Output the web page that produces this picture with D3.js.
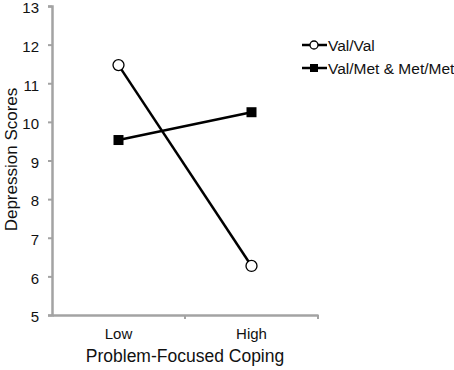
<!DOCTYPE html>
<html>
<head>
<meta charset="utf-8">
<script src="https://cdn.jsdelivr.net/npm/d3@7"></script>
<style>
  body { margin: 0; background: #fff; }
  svg text { font-family: "Liberation Sans", Arial, sans-serif; fill: #111; }
</style>
</head>
<body>
<div id="chart"></div>
<script>
// data
const categories = ["Low", "High"];
const valVal = [11.47, 6.27];
const valMet = [9.53, 10.25];
const seriesNames = ["Val/Val", "Val/Met & Met/Met"];
const yTicks = [5, 6, 7, 8, 9, 10, 11, 12, 13];

const width = 454, height = 370;
const margin = {top: 6, right: 136, bottom: 55, left: 52};

let svg = d3.select("#chart").append("svg")
    .attr("width", width)
    .attr("height", height);

let xScale = d3.scaleBand().domain(categories)
    .range([margin.left, width - margin.right]);
let yScale = d3.scaleLinear().domain([5, 13])
    .range([height - margin.bottom, margin.top]);

const axisColor = "#a3a3a3";

// y axis
let yAx = svg.append("g")
    .attr("transform", "translate(" + margin.left + ",0)")
    .call(d3.axisLeft(yScale).tickValues(yTicks).tickSize(4).tickPadding(9));
yAx.select(".domain").attr("stroke", axisColor).attr("stroke-width", 2.5);
yAx.selectAll(".tick line").attr("stroke", axisColor).attr("stroke-width", 2);
yAx.selectAll(".tick text").style("font-size", "15px").attr("fill", "#111")
    .attr("dy", "0.45em");

// x axis, ticks on the band edges
let xAx = svg.append("g")
    .attr("transform", "translate(0," + (height - margin.bottom) + ")")
    .call(d3.axisBottom(xScale).tickSize(0).tickPadding(13));
xAx.select(".domain").attr("stroke", axisColor).attr("stroke-width", 2.5);
xAx.selectAll(".tick text").style("font-size", "15px").attr("fill", "#111");
let edges = [xScale("High"), xScale.range()[1]];
xAx.selectAll(".edgeTick").data(edges).enter().append("line")
    .attr("x1", d => d).attr("x2", d => d)
    .attr("y1", 0).attr("y2", 4)
    .attr("stroke", axisColor).attr("stroke-width", 2);

// axis titles
svg.append("text")
    .attr("transform", "translate(17," + (yScale(9) - 1) + ") rotate(-90)")
    .attr("text-anchor", "middle")
    .style("font-size", "17px")
    .text("Depression Scores");
svg.append("text")
    .attr("x", xScale("High"))
    .attr("y", height - 8)
    .attr("text-anchor", "middle")
    .style("font-size", "17.5px")
    .text("Problem-Focused Coping");

let cx = c => xScale(c) + xScale.bandwidth() / 2;
let line = d3.line().x((d, i) => cx(categories[i])).y(d => yScale(d));

// Val/Met line and squares
svg.append("path").attr("d", line(valMet))
    .attr("fill", "none").attr("stroke", "#000").attr("stroke-width", 2.5);
svg.selectAll(".sq").data(valMet).enter().append("rect")
    .attr("x", (d, i) => cx(categories[i]) - 5)
    .attr("y", d => yScale(d) - 5)
    .attr("width", 10).attr("height", 10)
    .attr("fill", "#000");

// Val/Val line and circles
svg.append("path").attr("d", line(valVal))
    .attr("fill", "none").attr("stroke", "#000").attr("stroke-width", 2.5);
svg.selectAll(".circ").data(valVal).enter().append("circle")
    .attr("cx", (d, i) => cx(categories[i]))
    .attr("cy", d => yScale(d))
    .attr("r", 5.5)
    .attr("fill", "#fff").attr("stroke", "#000").attr("stroke-width", 1.3);

// legend
let legend = svg.append("g").attr("transform", "translate(302,45)");
seriesNames.forEach((name, i) => {
    let g = legend.append("g").attr("transform", "translate(0," + (i * 23) + ")");
    g.append("line").attr("x1", 0).attr("x2", 25).attr("y1", 0).attr("y2", 0)
        .attr("stroke", "#000").attr("stroke-width", 2.5);
    if (i === 0) {
        g.append("circle").attr("cx", 12).attr("cy", 0).attr("r", 4)
            .attr("fill", "#fff").attr("stroke", "#000").attr("stroke-width", 1.3);
    } else {
        g.append("rect").attr("x", 8).attr("y", -4).attr("width", 8).attr("height", 8)
            .attr("fill", "#000");
    }
    g.append("text").attr("x", 26).attr("y", 5.5)
        .style("font-size", "15.5px")
        .text(name);
});
</script>
</body>
</html>
